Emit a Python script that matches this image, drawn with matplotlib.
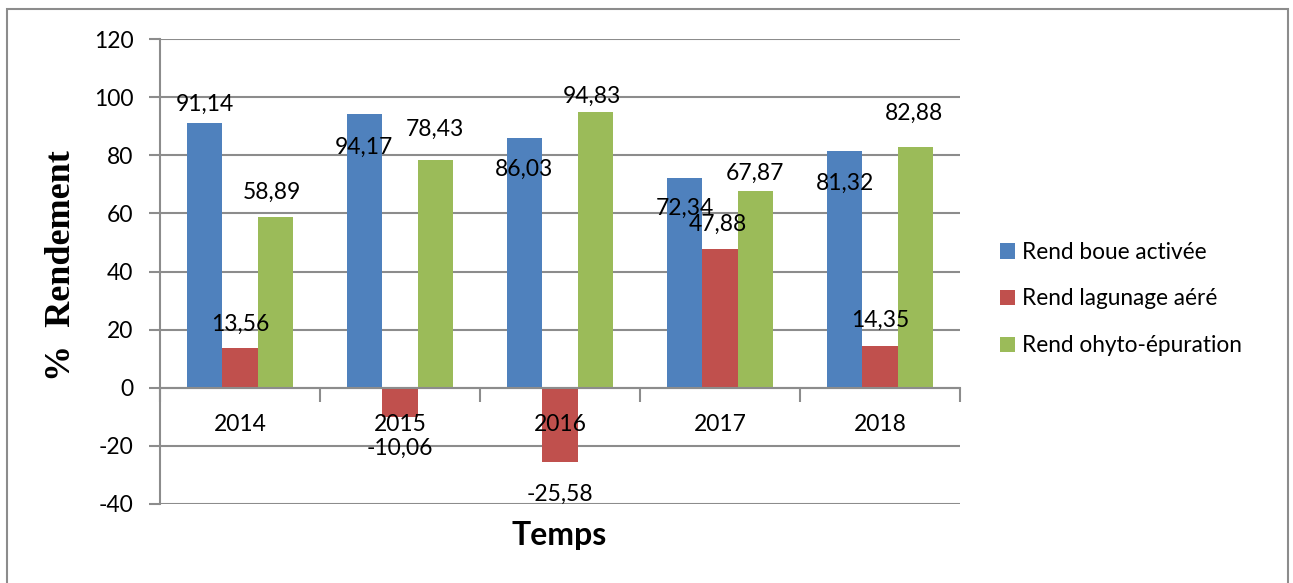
import matplotlib
matplotlib.use("Agg")
import matplotlib.pyplot as plt
from matplotlib.patches import Patch, Rectangle
import numpy as np

# ---- data ----
years = ["2014", "2015", "2016", "2017", "2018"]
series_names = ["Rend boue activée", "Rend lagunage aéré", "Rend ohyto-épuration"]
boue_activee = [91.14, 94.17, 86.03, 72.34, 81.32]
lagunage_aere = [13.56, -10.06, -25.58, 47.88, 14.35]
phyto_epuration = [58.89, 78.43, 94.83, 67.87, 82.88]
y_ticks = [-40, -20, 0, 20, 40, 60, 80, 100, 120]

# ---- style ----
colors = ["#4F81BD", "#C0504D", "#9BBB59"]
grid_col = "#8C8C8C"
W, H, DPI = 1293, 583, 100
PX = 72.0 / DPI  # points per pixel

# label placement (dx, dy) in pixels from the bar end to the label centre
label_offsets = [
    [(0, 20.5), (-1, -31), (-1, -30), (0, -29.5), (0, -30)],
    [(0, 26), (0, -30), (0, -30), (-2, 26.5), (0, 27.7)],
    [(-3, 26), (0, 32), (-3, 18), (0, 19), (-1, 35)],
]

plt.rcParams["font.family"] = ["Lato", "DejaVu Sans"]

fig = plt.figure(figsize=(W / DPI, H / DPI), dpi=DPI)
ax = fig.add_axes([160 / W, 1 - 504 / H, 800 / W, 465 / H])

# horizontal gridlines behind the bars
for t in y_ticks:
    ax.axhline(t, color=grid_col, lw=1.5, zorder=0)

x = np.arange(len(years))
bw = 0.22
all_series = [boue_activee, lagunage_aere, phyto_epuration]
for k, (vals, col) in enumerate(zip(all_series, colors)):
    pos = x + (k - 1) * bw
    ax.bar(pos, vals, width=bw, color=col, zorder=3)
    for j, v in enumerate(vals):
        dx, dy = label_offsets[k][j]
        label = f"{v:.2f}".replace(".", ",")
        # baseline sits half a digit-height below the label centre
        ax.annotate(label, xy=(pos[j], v),
                    xytext=(dx * PX, (dy - 8.3) * PX),
                    textcoords="offset points", ha="center", va="baseline",
                    fontsize=16.5, color="black", zorder=6)

ax.set_xlim(-0.5, len(years) - 0.5)
ax.set_ylim(-40, 120)
ax.set_yticks(y_ticks)
ax.set_yticklabels([str(t) for t in y_ticks])

# category boundaries as tick marks, year names centred between them
ax.set_xticks(np.arange(-0.5, len(years), 1.0))
ax.set_xticklabels([])
ax.set_xticks(x, minor=True)
ax.set_xticklabels(years, minor=True)
ax.tick_params(axis="x", which="minor", length=0, pad=19, labelsize=16.5)
ax.tick_params(axis="x", which="major", length=10 * PX * 1.39, width=1.5, color=grid_col)
ax.tick_params(axis="y", length=8 * PX * 1.39, width=1.5, color=grid_col, pad=11, labelsize=16.5)
ax.xaxis.set_zorder(5)

for s in ["top", "right"]:
    ax.spines[s].set_visible(False)
ax.spines["bottom"].set_position(("data", 0))
ax.spines["bottom"].set_color(grid_col)
ax.spines["bottom"].set_linewidth(1.5)
ax.spines["bottom"].set_zorder(4)
ax.spines["left"].set_color(grid_col)
ax.spines["left"].set_linewidth(1.5)

# axis titles
fig.text(559 / W, 1 - 545 / H, "Temps", ha="center", va="baseline",
         fontsize=23, fontweight="bold")
fig.text(62 / W, 1 - 266 / H, "%  Rendement", rotation=90, ha="center", va="center",
         fontsize=26, fontweight="bold", family=["Liberation Serif", "DejaVu Serif"])

# legend
handles = [Patch(facecolor=c, edgecolor="none") for c in colors]
fig.legend(handles, series_names, loc="center left",
           bbox_to_anchor=(1000 / W, 1 - 299 / H), frameon=False,
           fontsize=16.3, handlelength=0.66, handleheight=0.66,
           handletextpad=0.33, labelspacing=1.13, borderpad=0, borderaxespad=0)

# outer chart border
fig.patches.append(Rectangle((7 / W, -0.1), (1288 - 7) / W, 0.1 + 1 - 9.5 / H,
                             transform=fig.transFigure, fill=False,
                             edgecolor=grid_col, lw=1.5))

fig.savefig("out.png", dpi=DPI)
